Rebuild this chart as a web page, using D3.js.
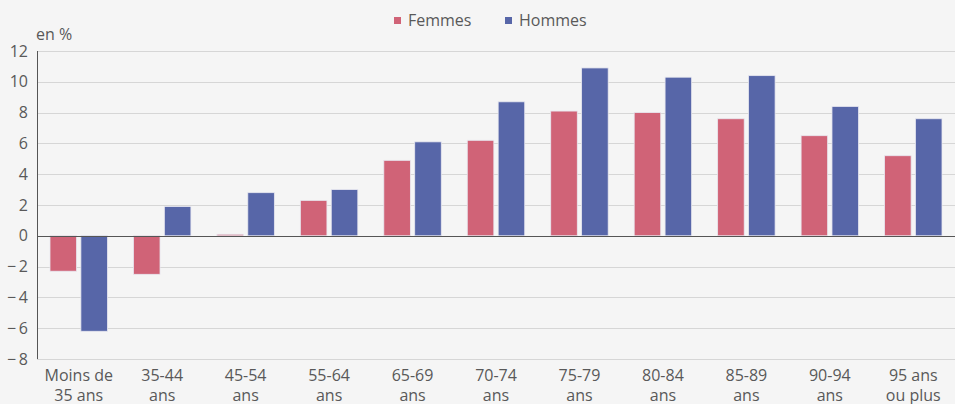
<!DOCTYPE html>
<html>
<head>
<meta charset="utf-8">
<script src="https://cdn.jsdelivr.net/npm/d3@7"></script>
<style>
  body { margin: 0; background: #f5f5f5; }
  svg { display: block; font-family: "Open Sans", sans-serif; }
</style>
</head>
<body>
<div id="chart"></div>
<script>
// data
const categories = [
  ['Moins de', '35 ans'], ['35-44', 'ans'], ['45-54', 'ans'], ['55-64', 'ans'],
  ['65-69', 'ans'], ['70-74', 'ans'], ['75-79', 'ans'], ['80-84', 'ans'],
  ['85-89', 'ans'], ['90-94', 'ans'], ['95 ans', 'ou plus']
];
const femmes = [-2.3, -2.5, 0.1, 2.3, 4.9, 6.2, 8.1, 8.0, 7.6, 6.5, 5.2];
const hommes = [-6.2, 1.9, 2.8, 3.0, 6.1, 8.7, 10.9, 10.3, 10.4, 8.4, 7.6];
const yTicks = [-8, -6, -4, -2, 0, 2, 4, 6, 8, 10, 12];
const seriesNames = ['Femmes', 'Hommes'];
const colors = ['#d06377', '#5766a8'];

const W = 955, H = 404;
const margin = { top: 51, right: 0, bottom: 45, left: 37 };
const width = W - margin.left - margin.right;
const height = H - margin.top - margin.bottom;

const svg = d3.select('#chart').append('svg')
  .attr('width', W).attr('height', H);

svg.append('rect').attr('width', W).attr('height', H).attr('fill', '#f5f5f5');

const g = svg.append('g').attr('transform', `translate(${margin.left},${margin.top})`);

const idx = categories.map((d, i) => i);
const x = d3.scaleBand().domain(idx).range([0, width]).paddingInner(0).paddingOuter(0);
const xInner = d3.scaleBand().domain([0, 1]).range([13, x.bandwidth() - 13]).paddingInner(0.14);
const y = d3.scaleLinear().domain([-8, 12]).range([height, 0]);

// gridlines
g.append('g')
  .selectAll('line')
  .data(yTicks)
  .enter().append('line')
  .attr('x1', 0).attr('x2', width)
  .attr('y1', d => Math.round(y(d)) + 0.5).attr('y2', d => Math.round(y(d)) + 0.5)
  .attr('stroke', '#d6d6d6').attr('stroke-width', 1);

// y axis labels
const fmt = d => d < 0 ? '\u2212\u2009' + Math.abs(d) : String(d);
const yAxis = g.append('g')
  .call(d3.axisLeft(y).tickValues(yTicks).tickSize(0).tickPadding(9).tickFormat(fmt));
yAxis.select('.domain').remove();
yAxis.selectAll('text').attr('fill', '#595959').style('font-size', '16px')
  .style('font-family', '"Open Sans", sans-serif');

// bars
const series = [femmes, hommes];
series.forEach((vals, s) => {
  g.append('g')
    .selectAll('rect')
    .data(vals)
    .enter().append('rect')
    .attr('x', (d, i) => x(i) + xInner(s))
    .attr('width', xInner.bandwidth())
    .attr('y', d => y(Math.max(0, d)))
    .attr('height', d => Math.abs(y(d) - y(0)))
    .attr('fill', colors[s])
    .attr('stroke', '#e8e8f0').attr('stroke-width', 0.8);
});

// zero line and y axis line
g.append('line')
  .attr('x1', 0).attr('x2', width)
  .attr('y1', Math.round(y(0)) + 0.5).attr('y2', Math.round(y(0)) + 0.5)
  .attr('stroke', '#555').attr('stroke-width', 1);
g.append('line')
  .attr('x1', 0.5).attr('x2', 0.5)
  .attr('y1', 0).attr('y2', height)
  .attr('stroke', '#555').attr('stroke-width', 1);

// x labels (second line is clipped by the bottom edge, as in the original)
const xl = g.append('g').attr('transform', `translate(0,${height})`);
categories.forEach((lines, i) => {
  const t = xl.append('text')
    .attr('x', x(i) + x.bandwidth() / 2)
    .attr('text-anchor', 'middle')
    .attr('fill', '#595959').style('font-size', '16px');
  lines.forEach((l, k) => {
    t.append('tspan').attr('x', x(i) + x.bandwidth() / 2).attr('y', 22 + k * 20).text(l);
  });
});

// unit label
svg.append('text').attr('x', 36).attr('y', 40)
  .attr('fill', '#595959').style('font-size', '16px').text('en %');

// legend
const legX = [394, 505];
seriesNames.forEach((n, s) => {
  svg.append('rect').attr('x', legX[s]).attr('y', 17).attr('width', 7).attr('height', 7)
    .attr('fill', colors[s]);
  svg.append('text').attr('x', legX[s] + 14).attr('y', 26)
    .attr('fill', '#595959').style('font-size', '16px').text(n);
});
</script>
</body>
</html>
